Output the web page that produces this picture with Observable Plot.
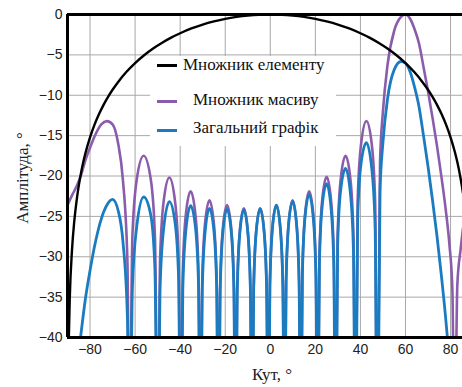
<!DOCTYPE html>
<html><head><meta charset="utf-8">
<script src="https://cdn.jsdelivr.net/npm/d3@7"></script>
<script src="https://cdn.jsdelivr.net/npm/@observablehq/plot@0.6"></script>
<style>
body{margin:0;background:#fff;}
#wrap{position:relative;width:462px;height:387px;overflow:hidden;}
.legend{position:absolute;left:150px;top:56px;width:186px;height:90px;background:#fff;font-family:"Liberation Serif","Times New Roman",serif;font-size:17px;color:#111;}
.sw{position:absolute;width:20px;height:3px;}
.lt{position:absolute;line-height:20px;white-space:nowrap;}
</style></head>
<body><div id="wrap"></div>
<script>
// ---- data ----
const xDomain = [-90, 85.3];
const yDomain = [-40, 0];
const xTicks = [-80, -60, -40, -20, 0, 20, 40, 60, 80];
const yTicks = [0, -5, -10, -15, -20, -25, -30, -35, -40];

const angle = [
 -90,-88,-86,-84,-82,-80,-78,-75,-72.5,-70,-67.5,-65.4,-63.4,-62.5,
 -61.2,-59.3,-56.2,-53.0,-51.2,-49.9,
 -48.9,-47.35,-44.8,-42.25,-40.7,-39.7,
 -38.83,-37.53,-35.35,-33.18,-31.87,-31.0,
 -30.2,-29.0,-27.0,-25.0,-23.8,-23.0,
 -22.24,-21.1,-19.2,-17.3,-16.16,-15.4,
 -14.67,-13.58,-11.75,-9.93,-8.83,-8.1,
 -7.38,-6.3,-4.5,-2.7,-1.62,-0.9,
 -0.18,0.9,2.7,4.5,5.58,6.3,
 7.02,8.1,9.9,11.7,12.78,13.5,
 14.25,15.38,17.25,19.13,20.25,21.0,
 21.8,23.0,25.0,27.0,28.2,29.0,
 29.88,31.2,33.4,35.6,36.92,37.8,
 38.77,40.23,42.65,45.08,46.53,47.5,
 48.7,50,52,55,58,60,62,64,66,68,70,72,74,76,78,79.5,80.8,81.8,
 83,84.5,85.5
];
const arrayFactor = [
 -23.6,-22.4,-21.3,-19.9,-18.0,-16.5,-15.1,-13.6,-13.2,-13.6,-16.0,-20.5,-30.6,-55,
 -27.5,-20.5,-17.5,-20.5,-27.5,-55,
 -30.2,-23.2,-20.2,-23.2,-30.2,-55,
 -31.9,-24.9,-21.9,-24.9,-31.9,-55,
 -33,-26,-23,-26,-33,-55,
 -33.6,-26.6,-23.6,-26.6,-33.6,-55,
 -34,-27,-24,-27,-34,-55,
 -34,-27,-24,-27,-34,-55,
 -33.6,-26.6,-23.6,-26.6,-33.6,-55,
 -33,-26,-23,-26,-33,-55,
 -31.9,-24.9,-21.9,-24.9,-31.9,-55,
 -30.1,-23.1,-20.1,-23.1,-30.1,-55,
 -27.5,-20.5,-17.5,-20.5,-27.5,-55,
 -23.2,-16.2,-13.2,-16.2,-23.2,-55,
 -18.3,-12.0,-6.3,-2.0,-0.3,0,-0.5,-1.8,-3.6,-6.5,-9.5,-12.8,-16.3,-20.2,-24.5,-28.5,-34,-55,
 -33.5,-29,-26.5
];
const total = [
 -70,-51.6,-44.4,-39.5,-35.1,-31.7,-28.7,-25.3,-23.6,-22.9,-24.3,-28.1,-37.6,-60,
 -33.85,-26.33,-22.6,-24.91,-31.56,-60,
 -33.84,-26.58,-23.18,-25.81,-32.61,-60,
 -34.07,-26.91,-23.67,-26.45,-33.32,-60,
 -34.27,-27.16,-24.0,-26.86,-33.78,-60,
 -34.27,-27.2,-24.1,-27.0,-33.95,-60,
 -34.29,-27.25,-24.18,-27.13,-34.1,-60,
 -34.07,-27.05,-24.03,-27.01,-34.0,-60,
 -33.6,-26.6,-23.61,-26.63,-33.64,-60,
 -33.07,-26.09,-23.13,-26.18,-33.22,-60,
 -32.17,-25.22,-22.3,-25.4,-32.46,-60,
 -30.75,-23.82,-20.96,-24.1,-31.2,-60,
 -28.74,-21.85,-19.07,-22.3,-29.44,-60,
 -25.36,-18.55,-15.87,-19.22,-26.44,-60,
 -21.91,-15.84,-10.51,-6.83,-5.82,-6.02,-7.07,-8.96,-11.41,-15.03,-18.82,-23.0,-27.49,-32.53,-38.14,-43.3,-49.9,-60,
 -51.8,-49.5,-48
];
const elemAngle = [
 -89.5,-89,-88,-87,-86,-85,-84,-83,-82,-80,-78,-76,-74,-72,-70,-67,-64,-60,-56,-52,-48,-44,-40,-35,-30,-25,-20,-15,-10,-5,
 0,5,10,15,20,25,30,35,40,44,48,52,56,60,64,67,70,72,74,76,78,80,82,83,84,85,85.5
];
const elementFactor = [
 -41.18,-35.16,-29.15,-25.63,-23.13,-21.19,-19.62,-18.28,-17.13,-15.21,-13.64,-12.33,-11.19,-10.20,-9.32,-8.16,-7.16,-6.02,-5.05,-4.21,-3.49,-2.86,-2.32,-1.73,-1.25,-0.86,-0.54,-0.30,-0.13,-0.03,
 0,-0.03,-0.13,-0.30,-0.54,-0.86,-1.25,-1.73,-2.32,-2.86,-3.49,-4.21,-5.05,-6.02,-7.16,-8.16,-9.32,-10.20,-11.19,-12.33,-13.64,-15.21,-17.13,-18.28,-19.62,-21.19,-22.1
];
const seriesNames = ["Множник елементу", "Множник масиву", "Загальний графік"];
const seriesColors = ["#000000", "#8b5cab", "#1b7bc0"];
const xLabel = "Кут, °";
const yLabel = "Амплітуда, °";

// ---- build tables ----
const arrRows = angle.map((a, i) => ({angle: a, af: arrayFactor[i], tot: total[i]}));
const elemRows = elemAngle.map((a, i) => ({angle: a, ef: elementFactor[i]}));

const chart = Plot.plot({
  width: 462, height: 387,
  marginLeft: 67, marginRight: 0, marginTop: 14, marginBottom: 50,
  x: {domain: xDomain, label: null},
  y: {domain: yDomain, label: null},
  style: {fontFamily: "'Liberation Sans', Arial, sans-serif", fontSize: "14px", color: "#222", background: "#fff"},
  marks: [
    Plot.gridX(xTicks, {stroke: "#a8a8a8", strokeOpacity: 1, strokeWidth: 1}),
    Plot.gridY(yTicks, {stroke: "#a8a8a8", strokeOpacity: 1, strokeWidth: 1}),
    Plot.line(arrRows, {x: "angle", y: "af", stroke: seriesColors[1], strokeWidth: 2.6, curve: "monotone-x", clip: true}),
    Plot.line(arrRows, {x: "angle", y: "tot", stroke: seriesColors[2], strokeWidth: 2.8, curve: "monotone-x", clip: true}),
    Plot.line(elemRows, {x: "angle", y: "ef", stroke: seriesColors[0], strokeWidth: 2.4, curve: "monotone-x", clip: true}),
    Plot.ruleY([yDomain[1]], {stroke: "#000", strokeWidth: 3}),
    Plot.ruleY([yDomain[0]], {stroke: "#000", strokeWidth: 3}),
    Plot.ruleX([xDomain[0]], {stroke: "#000", strokeWidth: 3}),
    Plot.axisX(xTicks, {tickSize: 0, tickPadding: 7, label: null, tickFormat: d => d < 0 ? "\u2212" + Math.abs(d) : String(d)}),
    Plot.axisY(yTicks, {tickSize: 0, tickPadding: 5, label: null, tickFormat: d => d < 0 ? "\u2212" + Math.abs(d) : String(d)})
  ]
});

const wrap = document.getElementById("wrap");
wrap.appendChild(chart);

const svg = d3.select(chart);
svg.append("text")
  .attr("transform", "translate(22,178) rotate(-90)")
  .attr("text-anchor", "middle").attr("dominant-baseline", "central")
  .style("font-family", "'Liberation Serif','Times New Roman',serif").style("font-size", "17px").attr("fill", "#222")
  .text(yLabel);
svg.append("text")
  .attr("x", 272).attr("y", 374)
  .attr("text-anchor", "middle").attr("dominant-baseline", "central")
  .style("font-family", "'Liberation Serif','Times New Roman',serif").style("font-size", "17px").attr("fill", "#222")
  .text(xLabel);

// legend (boxed, inside the plot)
const leg = document.createElement("div");
leg.className = "legend";
const items = [
  {sw: 8, txtLeft: 33, txtTop: -1},
  {sw: 44, txtLeft: 43, txtTop: 34},
  {sw: 73, txtLeft: 43, txtTop: 62}
];
seriesNames.forEach((name, i) => {
  const s = document.createElement("div");
  s.className = "sw"; s.style.left = "7px"; s.style.top = items[i].sw + "px"; s.style.background = seriesColors[i];
  leg.appendChild(s);
  const t = document.createElement("div");
  t.className = "lt"; t.style.left = items[i].txtLeft + "px"; t.style.top = items[i].txtTop + "px";
  t.textContent = name;
  leg.appendChild(t);
});
wrap.appendChild(leg);
</script>
</body></html>
